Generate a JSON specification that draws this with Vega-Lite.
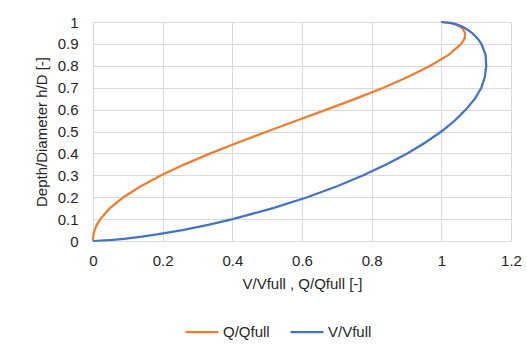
{
  "$schema": "https://vega.github.io/schema/vega-lite/v6.json",
  "width": 418,
  "height": 219,
  "autosize": {"type": "none"},
  "padding": {"left": 93, "top": 22, "right": 16, "bottom": 110},
  "background": "white",
  "config": {
    "font": "Liberation Sans",
    "view": {"stroke": null},
    "axis": {
      "domain": false,
      "ticks": false,
      "labelFlush": false,
      "gridColor": "#d9d9d9",
      "gridWidth": 1,
      "labelFont": "Liberation Sans",
      "labelFontSize": 15,
      "labelColor": "#262626",
      "titleFont": "Liberation Sans",
      "titleFontSize": 15,
      "titleFontWeight": "normal",
      "titleColor": "#262626"
    }
  },
  "data": {
    "values": [
      {"h": 0, "V": 0, "Q": 0},
      {"h": 0.005, "V": 0.0562, "Q": 0.0000337},
      {"h": 0.01, "V": 0.0890, "Q": 0.00015},
      {"h": 0.02, "V": 0.1408, "Q": 0.00067},
      {"h": 0.03, "V": 0.1839, "Q": 0.00161},
      {"h": 0.05, "V": 0.2569, "Q": 0.0048},
      {"h": 0.075, "V": 0.3339, "Q": 0.01138},
      {"h": 0.1, "V": 0.4012, "Q": 0.02088},
      {"h": 0.15, "V": 0.5168, "Q": 0.0486},
      {"h": 0.2, "V": 0.6151, "Q": 0.0876},
      {"h": 0.25, "V": 0.7007, "Q": 0.1370},
      {"h": 0.3, "V": 0.7761, "Q": 0.1958},
      {"h": 0.35, "V": 0.8430, "Q": 0.2629},
      {"h": 0.4, "V": 0.9022, "Q": 0.3370},
      {"h": 0.45, "V": 0.9544, "Q": 0.4165},
      {"h": 0.5, "V": 1.0, "Q": 0.5},
      {"h": 0.55, "V": 1.0385, "Q": 0.5852},
      {"h": 0.6, "V": 1.0705, "Q": 0.6706},
      {"h": 0.65, "V": 1.0965, "Q": 0.7545},
      {"h": 0.7, "V": 1.1150, "Q": 0.8340},
      {"h": 0.75, "V": 1.1250, "Q": 0.9050},
      {"h": 0.8, "V": 1.1290, "Q": 0.9680},
      {"h": 0.85, "V": 1.1270, "Q": 1.0210},
      {"h": 0.9, "V": 1.1150, "Q": 1.0570},
      {"h": 0.925, "V": 1.1040, "Q": 1.0670},
      {"h": 0.95, "V": 1.0880, "Q": 1.0680},
      {"h": 0.97, "V": 1.0700, "Q": 1.0610},
      {"h": 0.98, "V": 1.0580, "Q": 1.0530},
      {"h": 0.99, "V": 1.0410, "Q": 1.0400},
      {"h": 0.995, "V": 1.0295, "Q": 1.0290},
      {"h": 1, "V": 1, "Q": 1}
    ]
  },
  "transform": [
    {"fold": ["Q", "V"], "as": ["key", "value"]},
    {"calculate": "datum.key == 'Q' ? 'Q/Qfull' : 'V/Vfull'", "as": "series"}
  ],
  "mark": {"type": "line", "strokeWidth": 2.25, "interpolate": "linear"},
  "encoding": {
    "x": {
      "field": "value",
      "type": "quantitative",
      "scale": {"domain": [0, 1.2], "nice": false, "zero": true},
      "axis": {"values": [0, 0.2, 0.4, 0.6, 0.8, 1, 1.2], "format": "~g", "title": "V/Vfull , Q/Qfull [-]", "labelPadding": 12, "titlePadding": 8}
    },
    "y": {
      "field": "h",
      "type": "quantitative",
      "scale": {"domain": [0, 1], "nice": false},
      "axis": {"values": [0, 0.1, 0.2, 0.3, 0.4, 0.5, 0.6, 0.7, 0.8, 0.9, 1], "format": "~g", "title": "Depth/Diameter h/D [-]", "labelPadding": 15, "titlePadding": 8}
    },
    "order": {"field": "h", "type": "quantitative"},
    "color": {
      "field": "series",
      "type": "nominal",
      "scale": {"domain": ["Q/Qfull", "V/Vfull"], "range": ["#ED7D31", "#4472C4"]},
      "legend": {
        "title": null,
        "orient": "none",
        "legendX": 91,
        "legendY": 292,
        "direction": "horizontal",
        "symbolType": "stroke",
        "symbolSize": 1089,
        "symbolStrokeWidth": 2.25,
        "labelFont": "Liberation Sans",
        "labelFontSize": 15,
        "labelColor": "#262626",
        "labelOffset": 3,
        "columnPadding": 16
      }
    }
  }
}
